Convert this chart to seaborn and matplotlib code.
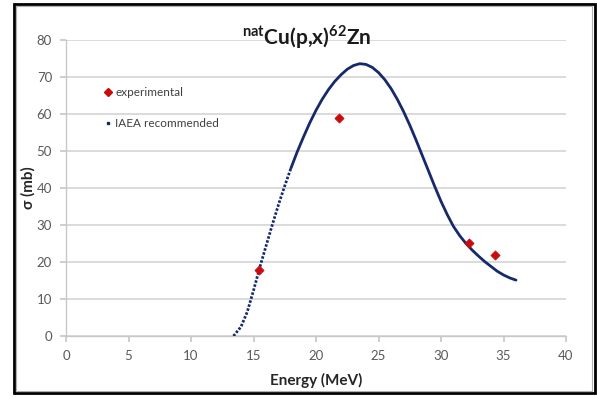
import numpy as np
import pandas as pd
import matplotlib
matplotlib.use("Agg")
import matplotlib.pyplot as plt
from matplotlib.patches import Rectangle
import seaborn as sns

# Experimental data
exp_energy = [15.4, 21.85, 32.2, 34.3]
exp_sigma = [17.9, 58.9, 25.2, 21.9]

# IAEA recommended curve
iaea_energy = [13.4, 13.5, 14.0, 14.5, 15.0, 15.5, 16.0, 16.5, 17.0, 17.5, 18.0,
               18.5, 19.0, 19.5, 20.0, 20.5, 21.0, 21.5, 22.0, 22.5, 23.0, 23.5,
               24.0, 24.5, 25.0, 25.5, 26.0, 26.5, 27.0, 27.5, 28.0, 28.5, 29.0,
               29.5, 30.0, 30.5, 31.0, 31.5, 32.0, 32.5, 33.0, 33.5, 34.0, 34.5,
               35.0, 35.5, 36.0]
iaea_sigma = [0.0, 0.4, 2.5, 6.5, 12.3, 18.5, 24.3, 30.0, 35.5, 40.6, 45.4,
              49.8, 53.8, 57.6, 61.0, 64.0, 66.6, 68.8, 70.6, 72.1, 73.1, 73.6,
              73.4, 72.6, 71.2, 69.3, 66.9, 64.0, 60.7, 57.0, 53.0, 48.8, 44.6,
              40.4, 36.4, 32.8, 29.6, 27.1, 25.0, 23.2, 21.6, 20.1, 18.8, 17.5,
              16.5, 15.7, 15.1]

title_parts = ["nat", "Cu(p,x)", "62", "Zn"]
x_label = "Energy (MeV)"
y_label = "σ (mb)"
legend_labels = ["experimental", "IAEA recommended"]

sns.set_theme(style="white")
plt.rcParams['font.family'] = ['Lato', 'DejaVu Sans']
plt.rcParams['mathtext.fontset'] = 'custom'
plt.rcParams['mathtext.rm'] = 'Lato'
plt.rcParams['mathtext.bf'] = 'Lato:bold'

fig = plt.figure(figsize=(5.97, 3.97), dpi=100)
ax = fig.add_axes([66/597, 1-336/397, 500/597, 296/397])

curve = pd.DataFrame({"E": iaea_energy, "s": iaea_sigma})
exp = pd.DataFrame({"E": exp_energy, "s": exp_sigma})
navy = "#16296b"
red = "#cc0a0a"

low = curve[curve.E <= 18.0]
high = curve[curve.E >= 18.0]
sns.lineplot(data=low, x="E", y="s", ax=ax, color=navy, linewidth=2.0,
             linestyle=(0, (0.9, 0.6)), sort=False, zorder=3)
sns.lineplot(data=high, x="E", y="s", ax=ax, color=navy, linewidth=2.0,
             sort=False, zorder=3)
sns.scatterplot(data=exp, x="E", y="s", ax=ax, marker="D", s=22, color=red,
                edgecolor=red, linewidth=0.5, zorder=4)

ax.set_xlim(0, 40)
ax.set_ylim(0, 80)
ax.set_xticks(np.arange(0, 41, 5))
ax.set_yticks(np.arange(0, 81, 10))
ax.yaxis.grid(True, color="#d4d4d4", linewidth=1.2)
ax.xaxis.grid(False)
for sp in ["top", "right"]:
    ax.spines[sp].set_visible(False)
for sp in ["left", "bottom"]:
    ax.spines[sp].set_color("#c8c8c8")
    ax.spines[sp].set_linewidth(1.0)
ax.tick_params(axis="both", which="major", direction="out", length=4,
               color="#c8c8c8", labelsize=9.5, labelcolor="#595959", pad=6,
               bottom=True, left=True)
ax.set_xlabel(x_label, fontsize=11, fontweight="bold", color="#262626")
ax.xaxis.set_label_coords(0.5, -0.125)
ax.set_ylabel(y_label, fontsize=11, fontweight="bold", color="#262626")
ax.yaxis.set_label_coords(-0.06, 0.5)

title = r"$^{\mathbf{%s}}$%s$^{\mathbf{%s}}$%s" % tuple(title_parts)
fig.text(307/597, 1-37/397, title, fontsize=15, fontweight="bold",
         color="#1a1a1a", ha="center", va="center")

# legend
h1 = plt.Line2D([], [], marker="D", color=red, linestyle="none", markersize=4.5)
h2 = plt.Line2D([], [], marker="s", color=navy, linestyle="none", markersize=2)
leg = ax.legend([h1, h2], legend_labels, loc="upper left",
                bbox_to_anchor=(0.055, 0.878), frameon=False, fontsize=8.5,
                labelspacing=1.75, handlelength=0.6, handletextpad=0.35,
                labelcolor="#404040")

# outer borders
fig.patches.append(Rectangle((14/597, 4/397), 581/597, 389/397, transform=fig.transFigure,
                             fill=False, edgecolor="black", linewidth=2.0))
fig.patches.append(Rectangle((16/597, 6/397), 576/597, 385/397, transform=fig.transFigure,
                             fill=False, edgecolor="#b0b0b0", linewidth=0.8))

fig.savefig("out.png", dpi=100)
